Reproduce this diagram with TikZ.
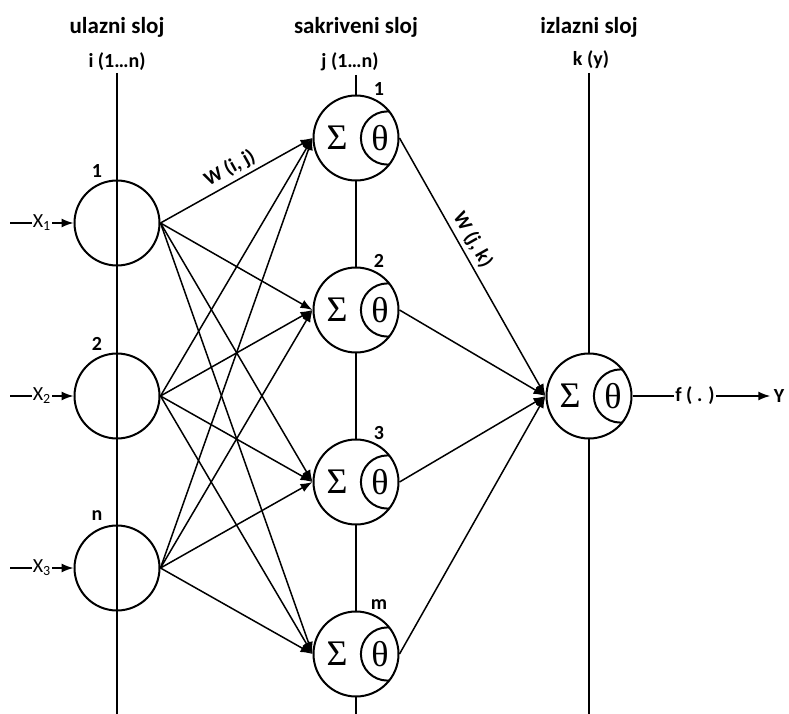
\documentclass[tikz,border=0pt]{standalone}
\usepackage{fontspec}
\setmainfont{Carlito}
\newfontfamily\grk{Liberation Serif}
\usepackage{tikz}
\usetikzlibrary{arrows.meta,calc}

\begin{document}
\begin{tikzpicture}[x=1pt,y=-1pt,
  layer/.style={line width=2pt},
  unit/.style={circle,draw,line width=2pt,minimum size=85pt,inner sep=0pt},
  sumunit/.style={unit,fill=white,
    path picture={
      \draw[line width=2pt] ([xshift=31.5pt]path picture bounding box.center) circle (26.6pt);
      \node[font=\grk\fontsize{36}{36}\selectfont] at ([xshift=-19pt]path picture bounding box.center) {Σ};
      \node[font=\grk\fontsize{36}{36}\selectfont] at ([xshift=24pt]path picture bounding box.center) {θ};
    }},
  link/.style={line width=1.5pt,-{Latex[length=12pt,width=9pt]}},
  title/.style={font=\fontsize{23}{27}\selectfont\bfseries},
  tag/.style={font=\fontsize{20}{24}\selectfont\bfseries}]
\useasboundingbox (0,0) rectangle (789,714);

% layer titles
\node[title] (tin) at (117,27) {ulazni sloj};
\node[title] (thid) at (356,27) {sakriveni sloj};
\node[title] (tout) at (589,27) {izlazni sloj};
\node[tag] (sin) at (117,62) {i (1…n)};
\node[tag] (shid) at (350,62) {j (1…n)};
\node[tag] (sout) at (591,60) {k (y)};

% layer axes
\coordinate (bin) at (117,714);
\coordinate (bhid) at (356,714);
\coordinate (bout) at (589,714);
\draw[layer] (117,73) -- (bin);
\draw[layer] (356,75) -- (bhid);
\draw[layer] (589,73) -- (bout);

% input units
\node[unit] (i1) at (117,223) {};
\node[unit] (i2) at (117,396) {};
\node[unit] (i3) at (117,568) {};
\node[tag] at ([shift={(-20,-52)}]i1) {1};
\node[tag] at ([shift={(-20,-52)}]i2) {2};
\node[tag] at ([shift={(-20,-52)}]i3) {n};

% hidden units
\node[sumunit] (h1) at (356,138) {};
\node[sumunit] (h2) at (356,310) {};
\node[sumunit] (h3) at (356,482) {};
\node[sumunit] (h4) at (356,654) {};
\node[tag] at ([shift={(23,-49)}]h1) {1};
\node[tag] at ([shift={(23,-49)}]h2) {2};
\node[tag] at ([shift={(23,-49)}]h3) {3};
\node[tag] at ([shift={(23,-49)}]h4) {m};

% output unit
\node[sumunit] (o) at (589,396) {};

% inputs
\foreach \k/\y in {1/223,2/396,3/568}{
  \coordinate (x\k) at (10,\y);
  \draw[link] (x\k) -- node[fill=white,inner sep=1pt,font=\fontsize{20}{22}\selectfont] {X\textsubscript{\k}} (i\k);
}

% weights
\foreach \a in {1,2,3}
  \foreach \b in {1,2,3,4}
    \draw[link] (i\a.east) -- (h\b.west);
\foreach \b in {1,2,3,4}
  \draw[link] (h\b.east) -- (o.west);
\path (i1.east) -- node[tag,midway,above=1pt,sloped] {W (i, j)} (h1.west);
\path (h1.east) -- node[tag,pos=0.42,above=1pt,sloped] {W (j, k)} (o.west);

% output
\node[tag,fill=white,inner sep=1pt] (f) at (695,396) {f ( . )};
\node[tag] (y) at (779,396) {Y};
\draw[line width=1.5pt] (o.east) -- (f);
\draw[link] (f) -- (y);
\end{tikzpicture}
\end{document}
